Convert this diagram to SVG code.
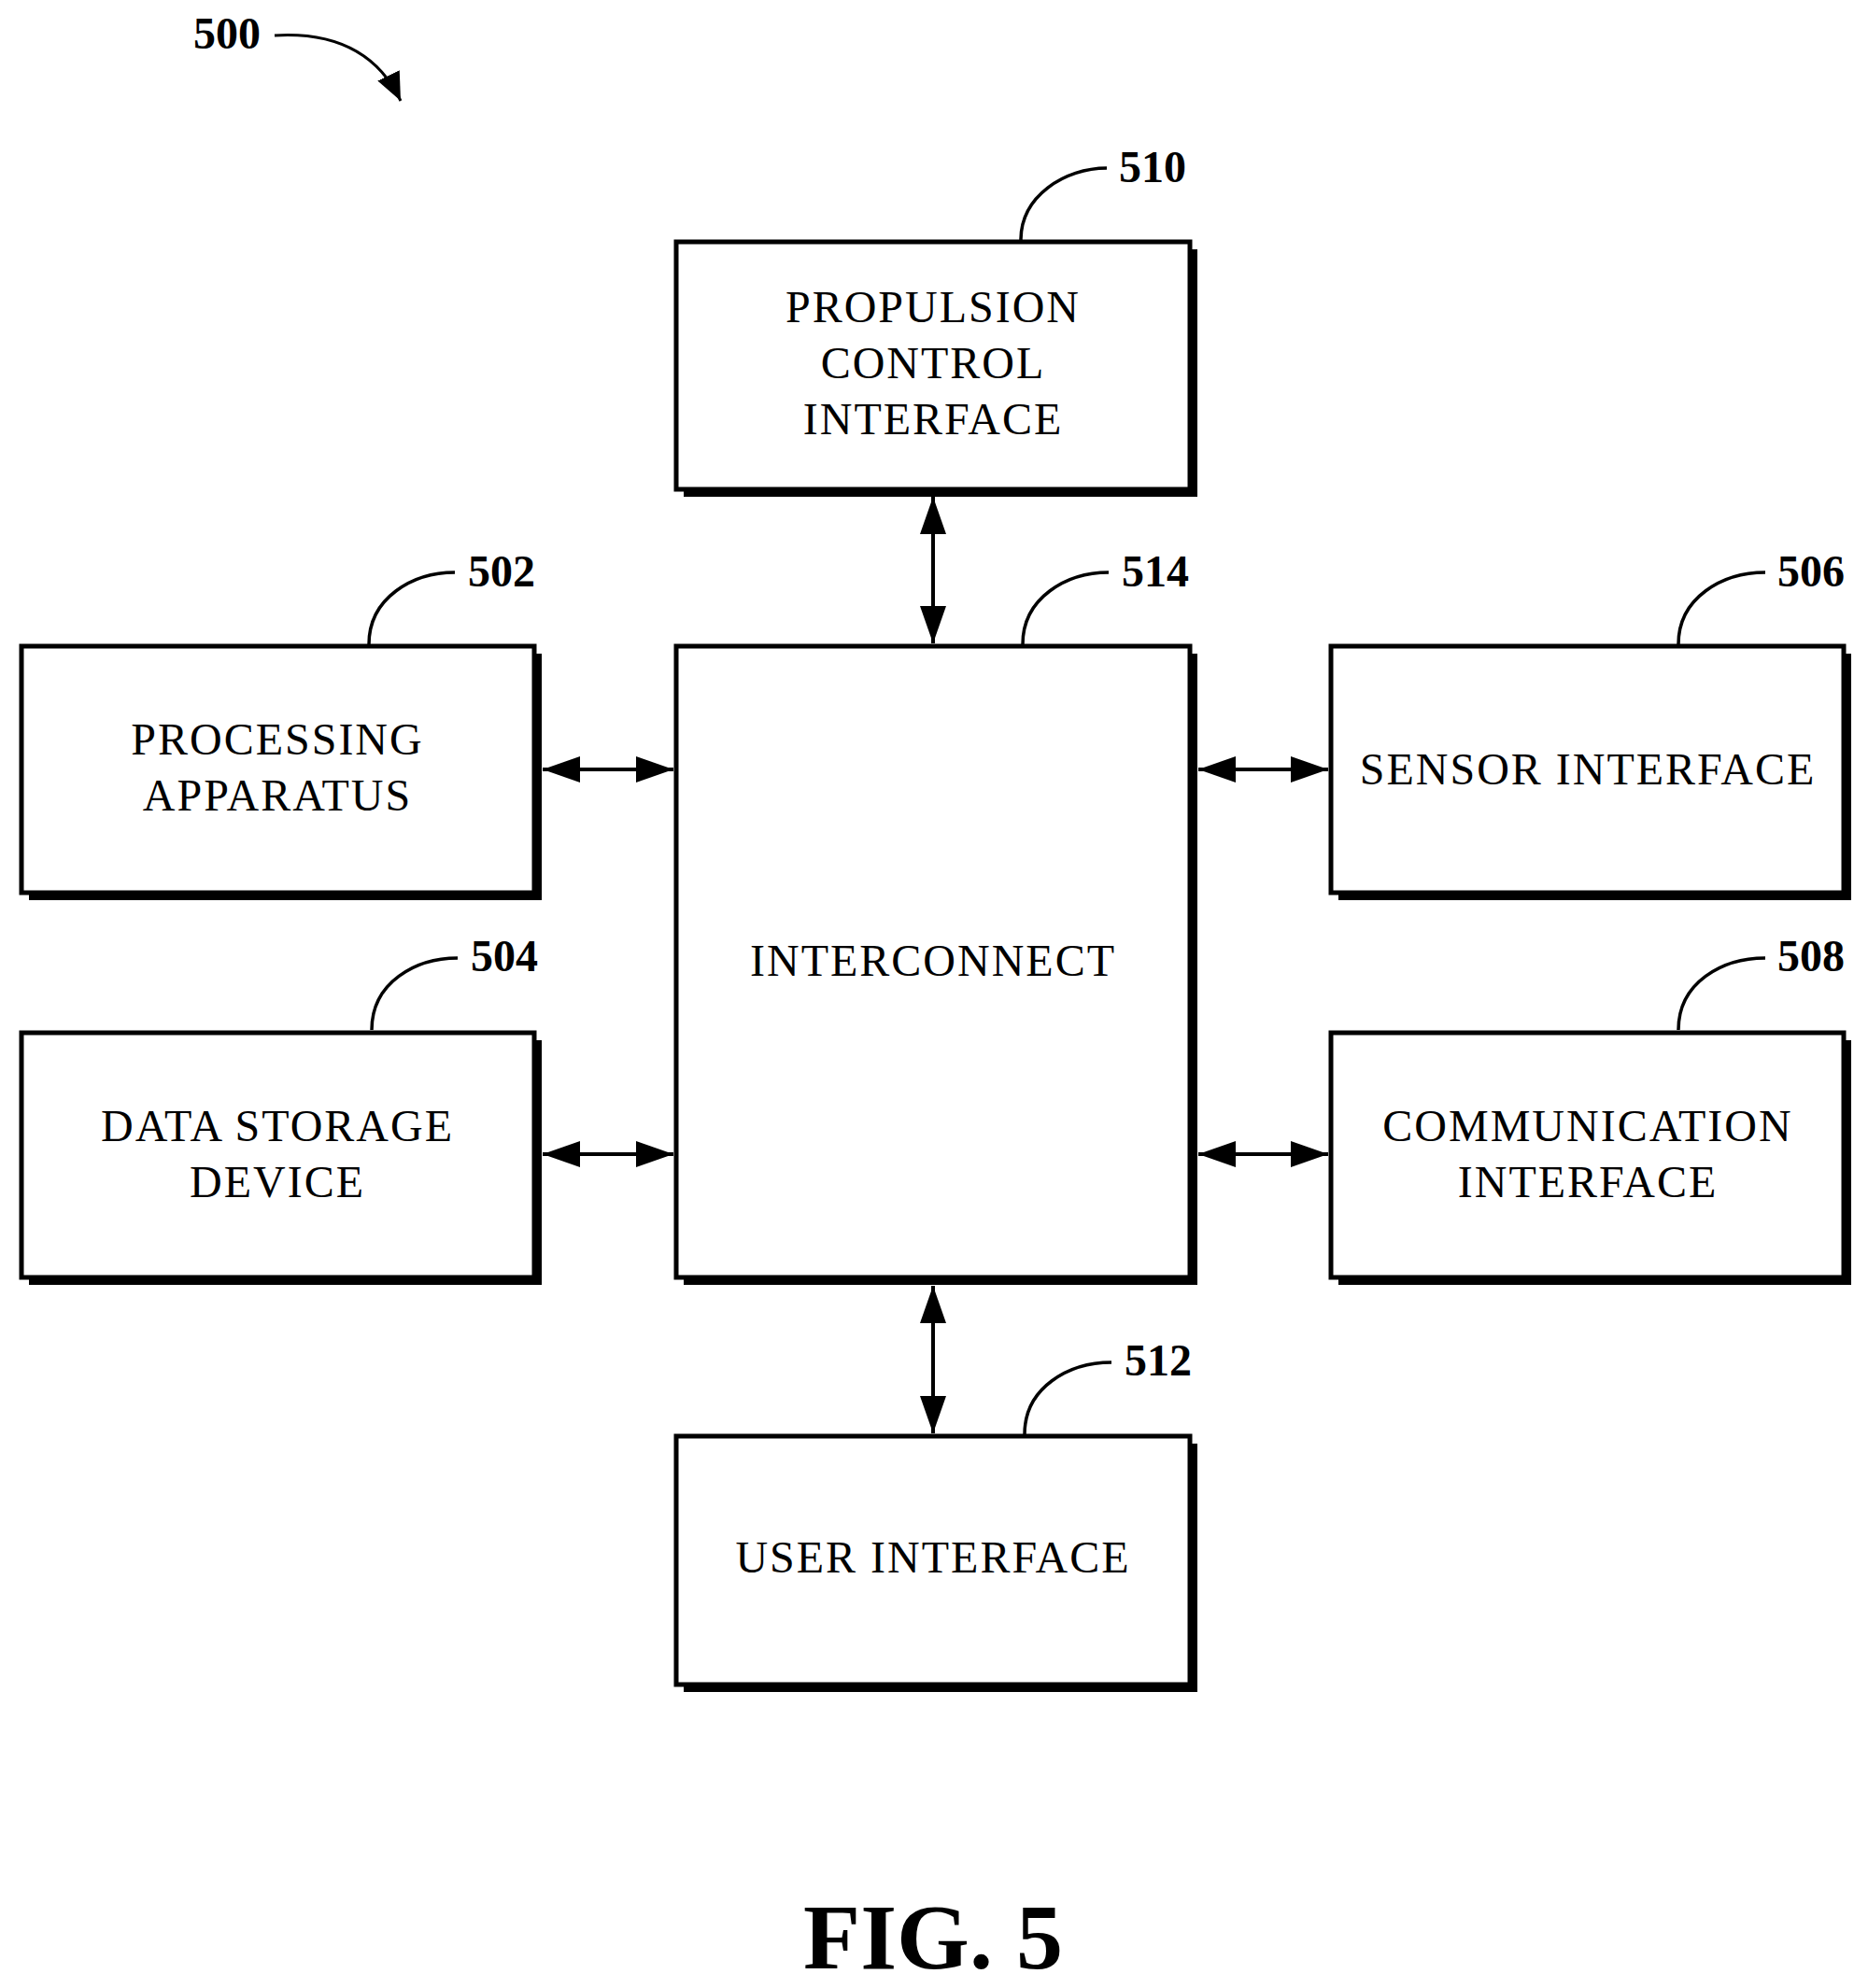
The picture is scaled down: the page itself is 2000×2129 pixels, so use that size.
<svg xmlns="http://www.w3.org/2000/svg" width="2000" height="2129" viewBox="0 0 2000 2129">
<style>
.sh{fill:#000}
.bx{fill:#fff;stroke:#000;stroke-width:5}
.t{font-family:"Liberation Serif",serif;font-size:48px;letter-spacing:2px;text-anchor:middle;fill:#000}
.n{font-family:"Liberation Serif",serif;font-size:48px;font-weight:bold;fill:#000}
.ld{fill:none;stroke:#000;stroke-width:3.5}
.c{fill:none;stroke:#000;stroke-width:4;marker-start:url(#a);marker-end:url(#a)}
</style>
<defs>
<marker id="a" viewBox="0 0 40 28" refX="40" refY="14" markerWidth="40" markerHeight="28" markerUnits="userSpaceOnUse" orient="auto-start-reverse"><path d="M0,0L40,14L0,28z"/></marker>
<marker id="b" viewBox="0 0 30 26" refX="30" refY="13" markerWidth="30" markerHeight="26" markerUnits="userSpaceOnUse" orient="auto"><path d="M0,0L30,13L0,26z"/></marker>
</defs>
<rect width="2000" height="2129" fill="#fff"/>
<g id="n500">
<text class="n" x="207" y="52">500</text>
<path class="ld" d="M294,38 C360,34 405,58 429,108" marker-end="url(#b)" style="stroke-width:3"/>
</g>
<g id="n510">
<rect class="sh" x="732" y="267" width="550" height="265"/>
<rect class="bx" x="724" y="259" width="550" height="265"/>
<text class="t" x="999" y="345">PROPULSION</text>
<text class="t" x="999" y="405">CONTROL</text>
<text class="t" x="999" y="465">INTERFACE</text>
<path class="ld" d="M1093,257 C1093,210 1140,180 1185,180"/>
<text class="n" x="1198" y="195">510</text>
</g>
<g id="n514">
<rect class="sh" x="732" y="700" width="550" height="676"/>
<rect class="bx" x="724" y="692" width="550" height="676"/>
<text class="t" x="999" y="1045">INTERCONNECT</text>
<path class="ld" d="M1095,690 C1095,640 1142,613 1187,613"/>
<text class="n" x="1201" y="628">514</text>
</g>
<g id="n502">
<rect class="sh" x="31" y="700" width="549" height="264"/>
<rect class="bx" x="23" y="692" width="549" height="264"/>
<text class="t" x="297" y="808">PROCESSING</text>
<text class="t" x="297" y="868">APPARATUS</text>
<path class="ld" d="M395,690 C395,640 442,613 487,613"/>
<text class="n" x="501" y="628">502</text>
</g>
<g id="n504">
<rect class="sh" x="31" y="1114" width="549" height="262"/>
<rect class="bx" x="23" y="1106" width="549" height="262"/>
<text class="t" x="297" y="1222">DATA STORAGE</text>
<text class="t" x="297" y="1282">DEVICE</text>
<path class="ld" d="M398,1103 C398,1052 445,1026 490,1026"/>
<text class="n" x="504" y="1040">504</text>
</g>
<g id="n506">
<rect class="sh" x="1433" y="700" width="549" height="264"/>
<rect class="bx" x="1425" y="692" width="549" height="264"/>
<text class="t" x="1700" y="840">SENSOR INTERFACE</text>
<path class="ld" d="M1797,690 C1797,640 1844,613 1890,613"/>
<text class="n" x="1903" y="628">506</text>
</g>
<g id="n508">
<rect class="sh" x="1433" y="1114" width="549" height="262"/>
<rect class="bx" x="1425" y="1106" width="549" height="262"/>
<text class="t" x="1700" y="1222">COMMUNICATION</text>
<text class="t" x="1700" y="1282">INTERFACE</text>
<path class="ld" d="M1797,1103 C1797,1052 1844,1026 1890,1026"/>
<text class="n" x="1903" y="1040">508</text>
</g>
<g id="n512">
<rect class="sh" x="732" y="1546" width="550" height="266"/>
<rect class="bx" x="724" y="1538" width="550" height="266"/>
<text class="t" x="999" y="1684">USER INTERFACE</text>
<path class="ld" d="M1097,1536 C1097,1486 1144,1459 1190,1459"/>
<text class="n" x="1204" y="1473">512</text>
</g>
<g id="connectors">
<path class="c" d="M999,532 V689"/>
<path class="c" d="M999,1377 V1535"/>
<path class="c" d="M581,824 H721"/>
<path class="c" d="M581,1236 H721"/>
<path class="c" d="M1283,824 H1422"/>
<path class="c" d="M1283,1236 H1422"/>
</g>
<text x="999" y="2108" style="font-family:'Liberation Serif',serif;font-size:100px;font-weight:bold;text-anchor:middle">FIG. 5</text>
</svg>
